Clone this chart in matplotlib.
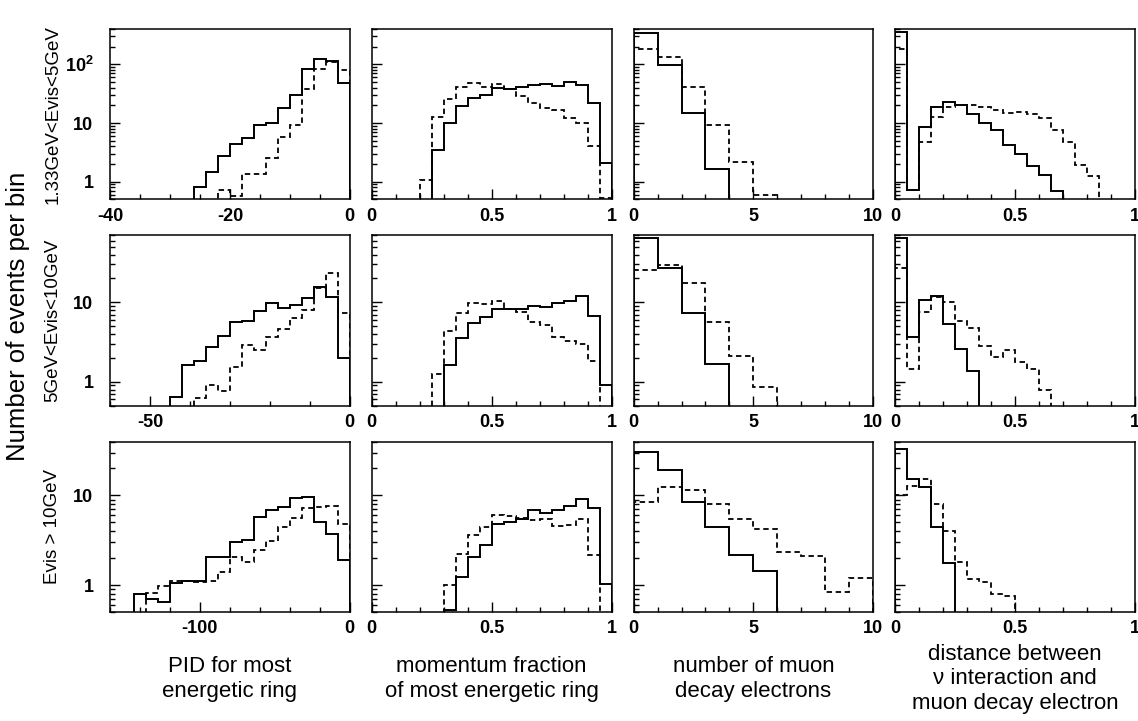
import numpy as np
import matplotlib
matplotlib.use("Agg")
import matplotlib.pyplot as plt
from matplotlib.ticker import MultipleLocator, FixedLocator, LogLocator, FuncFormatter, NullFormatter

plt.rcParams['font.family'] = ['Liberation Sans', 'DejaVu Sans']
plt.rcParams['axes.unicode_minus'] = False
plt.rcParams['mathtext.fontset'] = 'custom'
plt.rcParams['mathtext.rm'] = 'Liberation Sans'
plt.rcParams['mathtext.bf'] = 'Liberation Sans:bold'

# ---- data: bin settings (first edge, bin width) and contents per panel ----
row_labels = ['1.33GeV<Evis<5GeV', '5GeV<Evis<10GeV', 'Evis > 10GeV']
col_labels = ['PID for most\nenergetic ring',
              'momentum fraction\nof most energetic ring',
              'number of muon\ndecay electrons',
              'distance between\n\u03bd interaction and\nmuon decay electron']

# PID for most energetic ring
pid_lo_start, pid_lo_width = -26, 2
pid_lo_solid = [0.8, 1.44, 2.77, 4.37, 5.5, 9.4, 9.9, 18, 30, 82, 122, 114, 47.5]
pid_lo_dashed = [0, 0, 0.73, 0.58, 1.35, 1.35, 2.5, 5.7, 9.2, 37.6, 82, 109, 79]

pid_mid_start, pid_mid_width = -45, 3
pid_mid_solid = [0.65, 1.61, 1.83, 2.75, 3.78, 5.7, 5.85, 7.85, 9.8, 8.5, 9.3, 11.2, 15.8, 11.6, 1.97]
pid_mid_dashed = [0, 0, 0.62, 0.9, 0.76, 1.55, 2.88, 2.52, 3.7, 4.6, 6.3, 8.0, 15, 23.4, 7.4]

pid_hi_start, pid_hi_width = -144, 8
pid_hi_solid = [0.79, 0.69, 0.65, 1.05, 1.1, 1.1, 2.08, 2.03, 2.99, 3.2, 5.76, 6.96, 7.4, 9.4, 9.7, 5.1, 3.7, 1.9]
pid_hi_dashed = [0, 0.82, 0.98, 1.12, 1.1, 1.09, 1.1, 1.38, 2.03, 1.83, 2.47, 3.12, 4.5, 5.6, 7.2, 7.4, 7.6, 4.8]

# momentum fraction of most energetic ring
mom_lo_start, mom_lo_width = 0.20, 0.05
mom_lo_solid = [0, 3.45, 10.2, 19.6, 26.5, 30.5, 39, 37.6, 41, 44.5, 45.7, 42.7, 50, 44.5, 22.3, 2.05]
mom_lo_dashed = [1.07, 12.7, 26, 41.7, 48.8, 41.7, 46.4, 38.6, 29, 22.3, 18.3, 16.5, 12.1, 9.9, 4.1, 0.52]

mom_mid_start, mom_mid_width = 0.25, 0.05
mom_mid_solid = [0, 1.61, 3.6, 5.5, 6.6, 8.3, 8.2, 8.3, 8.9, 8.7, 9.8, 10.4, 11.9, 6.65, 0.91]
mom_mid_dashed = [1.27, 4.4, 7.3, 9.7, 9.5, 10.4, 8.2, 7.6, 5.6, 5.2, 3.7, 3.3, 3.0, 1.83, 0]

mom_hi_start, mom_hi_width = 0.30, 0.05
mom_hi_solid = [0.53, 1.24, 2.05, 2.8, 4.85, 5.06, 5.4, 6.8, 6.4, 6.8, 7.6, 9.2, 7.3, 1.03]
mom_hi_dashed = [1.0, 2.2, 3.65, 4.5, 6.1, 5.9, 5.6, 5.3, 5.4, 4.6, 4.7, 5.4, 2.17, 0]

# number of muon decay electrons
ndcy_start, ndcy_width = 0, 1
ndcy_lo_solid = [345, 97, 14.7, 1.64, 0, 0, 0, 0, 0, 0]
ndcy_lo_dashed = [180, 133, 41.7, 9.3, 2.19, 0.6, 0, 0, 0, 0]
ndcy_mid_solid = [64.6, 27, 7.3, 1.69, 0, 0, 0, 0, 0, 0]
ndcy_mid_dashed = [25.7, 29.7, 17.4, 5.6, 2.11, 0.87, 0, 0, 0, 0]
ndcy_hi_solid = [30.7, 19.3, 8.5, 4.45, 2.17, 1.44, 0, 0, 0, 0]
ndcy_hi_dashed = [8.5, 12.5, 11.4, 8.1, 5.5, 4.26, 2.33, 2.13, 0.84, 1.2]

# distance between nu interaction and muon decay electron
dist_start, dist_width = 0, 0.05
dist_lo_solid = [355, 0.73, 8.6, 18.8, 22.9, 20.1, 14.5, 9.9, 7.65, 4.2, 3.03, 1.87, 1.31, 0.69, 0, 0, 0, 0, 0, 0]
dist_lo_dashed = [185, 0.73, 4.85, 12.7, 18.8, 20.4, 20.1, 19.1, 16.7, 15.1, 15.5, 14.1, 12.1, 7.65, 4.85, 1.95, 1.23, 0, 0, 0]
dist_mid_solid = [64.6, 3.68, 10.8, 11.9, 5.3, 2.6, 1.36, 0, 0, 0, 0, 0, 0, 0, 0, 0, 0, 0, 0, 0]
dist_mid_dashed = [27, 1.43, 7.6, 11.6, 10.2, 5.9, 4.8, 2.83, 2.05, 2.52, 1.79, 1.46, 0.78, 0, 0, 0, 0, 0, 0, 0]
dist_hi_solid = [33.4, 15.1, 12.5, 4.5, 1.75, 0, 0, 0, 0, 0, 0, 0, 0, 0, 0, 0, 0, 0, 0, 0]
dist_hi_dashed = [10, 12.9, 15.4, 8.06, 3.97, 1.8, 1.17, 1.07, 0.79, 0.76, 0, 0, 0, 0, 0, 0, 0, 0, 0, 0]

panels = [
    [(pid_lo_start, pid_lo_width, pid_lo_solid, pid_lo_dashed),
     (mom_lo_start, mom_lo_width, mom_lo_solid, mom_lo_dashed),
     (ndcy_start, ndcy_width, ndcy_lo_solid, ndcy_lo_dashed),
     (dist_start, dist_width, dist_lo_solid, dist_lo_dashed)],
    [(pid_mid_start, pid_mid_width, pid_mid_solid, pid_mid_dashed),
     (mom_mid_start, mom_mid_width, mom_mid_solid, mom_mid_dashed),
     (ndcy_start, ndcy_width, ndcy_mid_solid, ndcy_mid_dashed),
     (dist_start, dist_width, dist_mid_solid, dist_mid_dashed)],
    [(pid_hi_start, pid_hi_width, pid_hi_solid, pid_hi_dashed),
     (mom_hi_start, mom_hi_width, mom_hi_solid, mom_hi_dashed),
     (ndcy_start, ndcy_width, ndcy_hi_solid, ndcy_hi_dashed),
     (dist_start, dist_width, dist_hi_solid, dist_hi_dashed)],
]

# axis ranges
row_ylims = [(0.5, 400), (0.5, 70), (0.5, 40)]
pid_xlims = [(-40, 0), (-60, 0), (-160, 0)]
pid_major = [20, 50, 100]
pid_minor = [5, 10, 20]


def ylabel_fmt(v, pos):
    if abs(v - 100) < 1e-6:
        return '10$^{\\mathbf{2}}$'
    return '%g' % v


fig, axes = plt.subplots(3, 4, figsize=(11.38, 7.21), dpi=100)
fig.subplots_adjust(left=0.0967, right=0.9974, top=0.9598, bottom=0.1512,
                    wspace=0.092, hspace=0.21)

for r in range(3):
    for c in range(4):
        ax = axes[r, c]
        start, width, solid, dashed = panels[r][c]
        edges = start + width * np.arange(len(solid) + 1)
        ax.stairs(solid, edges, baseline=0, color='black', lw=1.4)
        ax.stairs(dashed, edges, baseline=0, color='black', lw=1.3,
                  linestyle=(0, (3, 2)))

        ax.set_yscale('log')
        ax.set_ylim(*row_ylims[r])
        ax.yaxis.set_major_locator(FixedLocator([1, 10, 100]))
        ax.yaxis.set_minor_locator(LogLocator(subs=np.arange(2, 10)))
        ax.yaxis.set_minor_formatter(NullFormatter())

        if c == 0:
            ax.set_xlim(*pid_xlims[r])
            ax.xaxis.set_major_locator(MultipleLocator(pid_major[r]))
            ax.xaxis.set_minor_locator(MultipleLocator(pid_minor[r]))
            ax.yaxis.set_major_formatter(FuncFormatter(ylabel_fmt))
        else:
            ax.yaxis.set_major_formatter(NullFormatter())
            if c == 2:
                ax.set_xlim(0, 10)
                ax.xaxis.set_major_locator(MultipleLocator(5))
                ax.xaxis.set_minor_locator(MultipleLocator(1))
            else:
                ax.set_xlim(0, 1)
                ax.xaxis.set_major_locator(MultipleLocator(0.5))
                ax.xaxis.set_minor_locator(MultipleLocator(0.1))
        ax.xaxis.set_major_formatter(FuncFormatter(lambda v, p: '%g' % v))

        ax.tick_params(which='both', direction='in', top=False, right=False,
                       width=1.0, labelsize=13)
        ax.tick_params(which='major', length=7.5)
        ax.tick_params(which='minor', length=3.8)
        ax.tick_params(axis='x', pad=6)
        ax.tick_params(axis='y', pad=12)
        for lab in ax.get_xticklabels() + ax.get_yticklabels():
            lab.set_fontweight('bold')
        for sp in ax.spines.values():
            sp.set_linewidth(1.1)

# row labels and overall y label
for r in range(3):
    pos = axes[r, 0].get_position()
    fig.text(0.0465, (pos.y0 + pos.y1) / 2, row_labels[r], rotation=90,
             ha='center', va='center', fontsize=13.5)
mid = axes[1, 0].get_position()
fig.text(0.016, (mid.y0 + mid.y1) / 2 + 0.006, 'Number of events per bin',
         rotation=90, ha='center', va='center', fontsize=18.5)

# column labels at the bottom
for c in range(4):
    pos = axes[2, c].get_position()
    fig.text((pos.x0 + pos.x1) / 2, 1 - 679 / 721, col_labels[c],
             ha='center', va='center', fontsize=16, linespacing=1.2)

fig.savefig('out.png', dpi=100)
